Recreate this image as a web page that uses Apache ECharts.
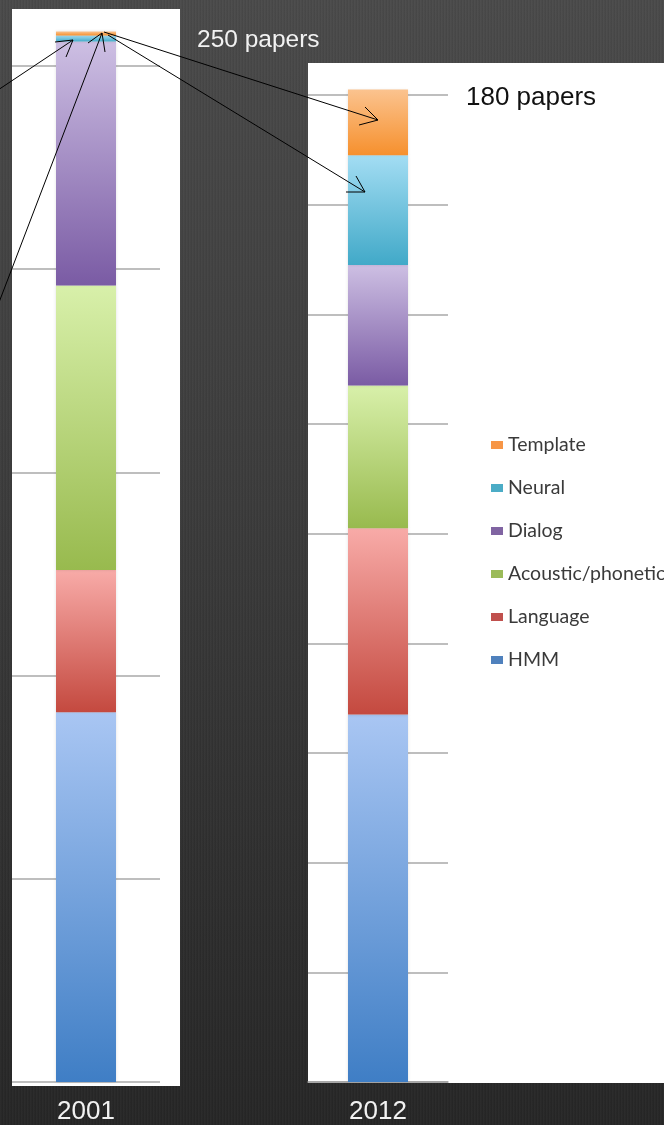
<!DOCTYPE html>
<html><head><meta charset="utf-8">
<script src="https://cdn.jsdelivr.net/npm/echarts@6/dist/echarts.min.js"></script>
<style>
html,body{margin:0;padding:0;width:664px;height:1125px;overflow:hidden;}
body{background:
 repeating-linear-gradient(90deg, rgba(255,255,255,0.025) 0px, rgba(255,255,255,0.025) 1px, rgba(0,0,0,0.035) 2px, rgba(0,0,0,0.035) 3px),
 linear-gradient(180deg,#4a4a4a 0%,#3b3b3b 45%,#262626 100%);}
#c{width:664px;height:1125px;}
</style></head><body><div id="c"></div>
<script>
// ---- data ----
const years = ['2001', '2012'];
const topics = ['HMM', 'Language', 'Acoustic/phonetic', 'Dialog', 'Neural', 'Template'];
const papers2001 = [91, 35, 70, 60, 1.5, 1];
const papers2012 = [67, 34, 26, 22, 20, 12];
const totals = ['250 papers', '180 papers'];
const axisMax = [250, 180];
const axisStep = [50, 20];
const legendOrder = ['Template', 'Neural', 'Dialog', 'Acoustic/phonetic', 'Language', 'HMM'];

// ---- styling ----
const flat = {
  'HMM': '#4F81BD', 'Language': '#C0504D', 'Acoustic/phonetic': '#9BBB59',
  'Dialog': '#8064A2', 'Neural': '#4BACC6', 'Template': '#F79646'
};
const grads = {
  'HMM': ['#A9C6F3', '#3F7EC5'],
  'Language': ['#F8ABA8', '#C4493F'],
  'Acoustic/phonetic': ['#D8F0AA', '#98BA4E'],
  'Dialog': ['#CDBFE3', '#7A5BA4'],
  'Neural': ['#A3DDF3', '#41A9C8'],
  'Template': ['#FBC38F', '#F6902D']
};
function grad(n) {
  return { type: 'linear', x: 0, y: 0, x2: 0, y2: 1,
    colorStops: [{ offset: 0, color: grads[n][0] }, { offset: 1, color: grads[n][1] }] };
}
const grids = [
  { left: 12, width: 148, top: 66, height: 1019 },
  { left: 308, width: 140, top: 95, height: 988 }
];
const valuesByYear = [papers2001, papers2012];

const series = [];
[0, 1].forEach(g => {
  topics.forEach((n, i) => {
    series.push({
      type: 'bar', name: n, xAxisIndex: g, yAxisIndex: g, stack: 'year' + g,
      data: [valuesByYear[g][i]], barWidth: 60, clip: false,
      itemStyle: { color: grad(n), shadowBlur: 3, shadowColor: 'rgba(0,0,0,0.12)' },
      emphasis: { disabled: true }
    });
  });
});

const line = { stroke: '#000', lineWidth: 1, fill: null };
function arrow(x1, y1, x2, y2, h1, h2) {
  return [
    { type: 'polyline', shape: { points: [[x1, y1], [x2, y2]] }, style: line, z: 200 },
    { type: 'polyline', shape: { points: [h1, [x2, y2], h2] }, style: line, z: 200 }
  ];
}

const option = {
  backgroundColor: 'transparent',
  animation: false,
  grid: grids,
  xAxis: [0, 1].map(g => ({
    type: 'category', gridIndex: g, data: [years[g]],
    axisLine: { show: g === 1, lineStyle: { color: '#a0a0a0', width: 1.5 } },
    axisTick: { show: false },
    axisLabel: { color: '#f2f2f2', fontSize: 26, fontFamily: 'Liberation Sans', margin: 17 }
  })),
  yAxis: [0, 1].map(g => ({
    type: 'value', gridIndex: g, min: 0, max: axisMax[g], interval: axisStep[g],
    axisLabel: { show: false }, axisLine: { show: false }, axisTick: { show: false },
    splitLine: { lineStyle: { color: '#a8a8a8', width: 1.5 } }
  })),
  legend: {
    orient: 'vertical', left: 486, top: 430, itemWidth: 12, itemHeight: 8, itemGap: 23,
    icon: 'rect', selectedMode: false,
    textStyle: { fontFamily: 'Lato', fontSize: 19.5, color: '#3a3a3a', lineHeight: 17 },
    data: legendOrder.map(n => ({ name: n, itemStyle: { color: flat[n] } }))
  },
  series: series,
  graphic: [
    { type: 'rect', shape: { x: 12, y: 9, width: 168, height: 1077 }, style: { fill: '#fff' }, z: -100 },
    { type: 'rect', shape: { x: 308, y: 63, width: 356, height: 1020 }, style: { fill: '#fff' }, z: -100 },
    { type: 'text', x: 197, y: 40, style: { text: totals[0], fill: '#f2f2f2', font: '24.5px "Liberation Sans"', verticalAlign: 'middle' }, z: 200 },
    { type: 'text', x: 466, y: 98, style: { text: totals[1], fill: '#111', font: '26px "Liberation Sans"', verticalAlign: 'middle' }, z: 200 }
  ].concat(
    arrow(-2, 90, 73, 40, [55, 42], [66, 57]),
    arrow(-2, 305, 102, 33, [88, 43], [105, 52]),
    arrow(104, 32, 378, 120, [359, 125], [365, 107]),
    arrow(108, 35, 365, 192, [346, 192], [356, 176])
  )
};
const chart = echarts.init(document.getElementById('c'), null, { renderer: 'canvas' });
chart.setOption(option);
</script></body></html>
